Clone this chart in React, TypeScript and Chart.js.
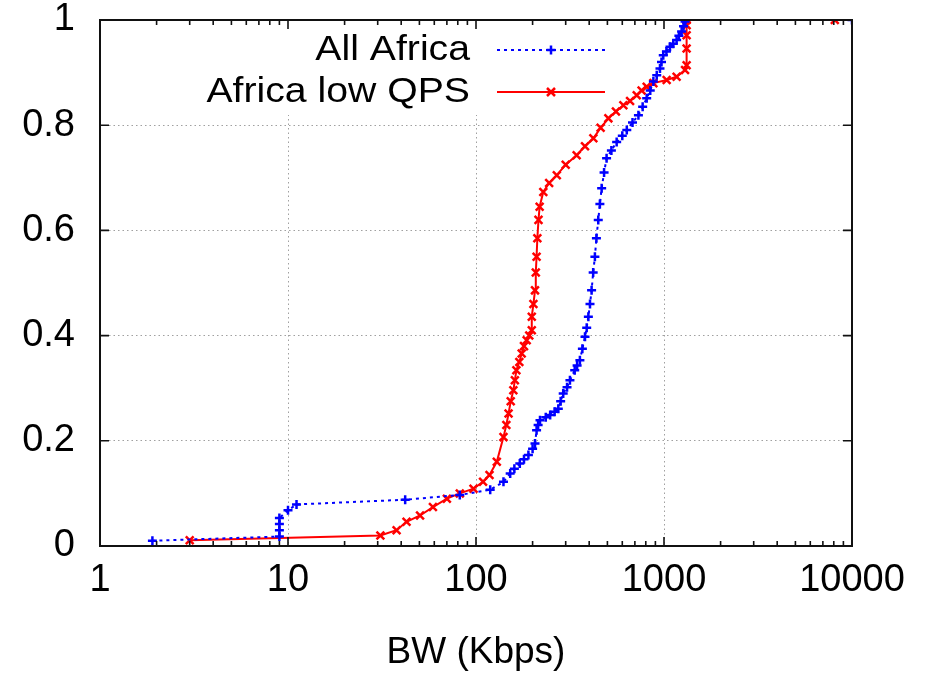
import React, { useEffect, useRef } from "react";
import { Chart, registerables } from "chart.js";

Chart.register(...registerables);

// ---- Data ----
const allAfricaBW = [
  1.9, 9.0, 9.0, 9.0, 9.0, 10.0, 11.1, 42, 82, 119, 140, 152, 160, 171, 180, 190, 200, 206, 210, 214, 219, 235,
  248, 262, 274, 282, 291, 305, 316, 335, 345, 357, 368, 380, 388, 396, 404, 412, 420, 429, 437, 447, 456, 466,
  480, 495, 525, 560, 600, 634, 680, 731, 770, 809, 845, 878, 915, 952, 970, 991, 1030, 1076, 1120, 1167, 1200,
  1241, 1270, 1294, 1300, 10000,
];
const allAfricaCDF = [
  0.01, 0.018, 0.03, 0.042, 0.053, 0.068, 0.079, 0.088, 0.097, 0.107, 0.122, 0.138, 0.147, 0.157, 0.165, 0.173,
  0.185, 0.195, 0.22, 0.23, 0.239, 0.245, 0.249, 0.255, 0.261, 0.275, 0.29, 0.302, 0.315, 0.334, 0.343, 0.353,
  0.375, 0.398, 0.415, 0.436, 0.46, 0.486, 0.52, 0.55, 0.585, 0.62, 0.65, 0.68, 0.71, 0.737, 0.752, 0.768, 0.78,
  0.791, 0.805, 0.819, 0.835, 0.851, 0.866, 0.883, 0.895, 0.908, 0.92, 0.933, 0.94, 0.949, 0.955, 0.962, 0.97,
  0.978, 0.988, 0.997, 1.0, 1.0,
];
const lowQpsBW = [
  3.0, 31, 37.8, 42.7, 50.4, 59, 70, 82, 97, 109, 118, 129, 140, 145, 149, 153, 158, 161, 164, 170, 175, 180,
  186, 192, 198, 198, 202, 206, 208, 210, 212, 215, 218, 228, 245, 269, 300, 343, 380, 421, 460, 506, 555, 608,
  660, 716, 760, 809, 878, 1033, 1167, 1294, 1319, 1319, 1319, 1319, 1319, 8100,
];
const lowQpsCDF = [
  0.011, 0.02, 0.03, 0.046, 0.058, 0.074, 0.09, 0.1, 0.109, 0.122, 0.135, 0.16, 0.207, 0.23, 0.252, 0.275, 0.296,
  0.315, 0.334, 0.35, 0.366, 0.38, 0.391, 0.4, 0.41, 0.436, 0.46, 0.486, 0.52, 0.55, 0.585, 0.62, 0.645, 0.673,
  0.69, 0.705, 0.725, 0.743, 0.76, 0.775, 0.795, 0.813, 0.826, 0.838, 0.846, 0.857, 0.866, 0.873, 0.88, 0.886,
  0.892, 0.905, 0.914, 0.946, 0.971, 0.99, 1.0, 1.0,
];
const seriesNames = ["All Africa", "Africa low QPS"];
const xTickValues = [1, 10, 100, 1000, 10000];
const xTitle = "BW (Kbps)";

const BLUE = "rgb(0,0,255)";
const RED = "rgb(255,0,0)";
const GRID = "rgba(150,150,150,0.9)";
const FONT = "'Liberation Sans', Arial, Helvetica, sans-serif";

const toPoints = (xs: number[], ys: number[]) => xs.map((x, i) => ({ x, y: ys[i] }));

const framePlugin = {
  id: "gnuplotFrame",
  beforeDatasetsDraw(chart: any) {
    const { ctx, chartArea } = chart;
    const { left, right, top } = chartArea;
    // key area masks the vertical grid lines
    ctx.save();
    ctx.fillStyle = "#ffffff";
    ctx.fillRect(left + 1, top + 1, right - left - 2, 114 - top);
    ctx.restore();
  },
  afterDatasetsDraw(chart: any) {
    const { ctx, chartArea, scales } = chart;
    const { left, right, top, bottom } = chartArea;
    const xs = scales.x;
    const ys = scales.y;
    ctx.save();
    ctx.strokeStyle = "#111";
    ctx.lineWidth = 1.6;
    ctx.beginPath();
    [0.2, 0.4, 0.6, 0.8].forEach((v) => {
      const py = ys.getPixelForValue(v);
      ctx.moveTo(left, py);
      ctx.lineTo(left + 9, py);
      ctx.moveTo(right, py);
      ctx.lineTo(right - 9, py);
    });
    for (let d = 1; d < 10000; d *= 10) {
      for (let m = 1; m <= 10; m++) {
        const v = d * m;
        if (v <= 1 || v >= 10000) continue;
        const px = xs.getPixelForValue(v);
        const len = m === 10 ? 9 : 5;
        ctx.moveTo(px, bottom);
        ctx.lineTo(px, bottom - len);
        ctx.moveTo(px, top);
        ctx.lineTo(px, top + len);
      }
    }
    ctx.stroke();
    ctx.lineWidth = 2;
    ctx.strokeRect(left, top, right - left, bottom - top);
    ctx.restore();

    // key (legend)
    const rows = [
      { name: seriesNames[0], color: BLUE, dash: [3, 4], style: "plus", y: 50 },
      { name: seriesNames[1], color: RED, dash: [], style: "x", y: 92 },
    ];
    rows.forEach((r) => {
      ctx.save();
      ctx.fillStyle = "#000";
      ctx.textAlign = "right";
      ctx.textBaseline = "middle";
      ctx.font = `35px ${FONT}`;
      ctx.translate(470, r.y);
      ctx.scale(1.12, 1);
      ctx.fillText(r.name, 0, 0);
      ctx.restore();

      ctx.save();
      ctx.strokeStyle = r.color;
      ctx.lineWidth = 2;
      ctx.setLineDash(r.dash);
      ctx.beginPath();
      ctx.moveTo(497, r.y);
      ctx.lineTo(605, r.y);
      ctx.stroke();
      ctx.setLineDash([]);
      ctx.lineWidth = 2.5;
      ctx.beginPath();
      const cx = 551;
      if (r.style === "plus") {
        ctx.moveTo(cx - 4.5, r.y);
        ctx.lineTo(cx + 4.5, r.y);
        ctx.moveTo(cx, r.y - 4.5);
        ctx.lineTo(cx, r.y + 4.5);
      } else {
        ctx.moveTo(cx - 4, r.y - 4);
        ctx.lineTo(cx + 4, r.y + 4);
        ctx.moveTo(cx - 4, r.y + 4);
        ctx.lineTo(cx + 4, r.y - 4);
      }
      ctx.stroke();
      ctx.restore();
    });
  },
};

export default function App() {
  const canvasRef = useRef<HTMLCanvasElement | null>(null);

  useEffect(() => {
    if (!canvasRef.current) return;
    const chart = new Chart(canvasRef.current, {
      type: "scatter",
      data: {
        datasets: [
          {
            label: seriesNames[0],
            data: toPoints(allAfricaBW, allAfricaCDF),
            showLine: true,
            borderColor: BLUE,
            backgroundColor: BLUE,
            borderWidth: 2,
            borderDash: [3, 4],
            pointStyle: "cross",
            pointRadius: 4.5,
            pointBorderWidth: 2.5,
            pointBorderColor: BLUE,
            tension: 0,
          },
          {
            label: seriesNames[1],
            data: toPoints(lowQpsBW, lowQpsCDF),
            showLine: true,
            borderColor: RED,
            backgroundColor: RED,
            borderWidth: 2,
            pointStyle: "crossRot",
            pointRadius: 5.5,
            pointBorderWidth: 2.5,
            pointBorderColor: RED,
            tension: 0,
          },
        ],
      },
      options: {
        animation: false,
        responsive: true,
        maintainAspectRatio: false,
        layout: { padding: { left: 0, right: 83, top: 20, bottom: 0 } },
        plugins: {
          legend: { display: false },
          tooltip: { enabled: false },
        },
        scales: {
          x: {
            type: "logarithmic",
            min: 1,
            max: 10000,
            afterBuildTicks: (scale: any) => {
              scale.ticks = xTickValues.map((v) => ({ value: v, major: true }));
            },
            afterFit: (scale: any) => {
              scale.height = 130;
              scale.paddingLeft = 0;
              scale.paddingRight = 0;
            },
            ticks: {
              callback: (v: any) => String(v),
              font: { family: FONT, size: 38 },
              color: "#000",
              padding: 12,
              maxRotation: 0,
              autoSkip: false,
            },
            grid: {
              drawTicks: false,
              lineWidth: 1,
              color: (c: any) =>
                c.tick && (c.tick.value === 1 || c.tick.value === 10000) ? "rgba(0,0,0,0)" : GRID,
            },
            border: { display: false, dash: [1.5, 3] },
            title: {
              display: true,
              text: xTitle,
              font: { family: FONT, size: 37 },
              color: "#000",
              padding: { top: 0, bottom: 1 },
            },
          },
          y: {
            min: 0,
            max: 1,
            afterFit: (scale: any) => {
              scale.width = 100;
              scale.paddingTop = 0;
              scale.paddingBottom = 0;
            },
            ticks: {
              stepSize: 0.2,
              callback: (v: any) => String(parseFloat(Number(v).toFixed(2))),
              font: { family: FONT, size: 38 },
              color: "#000",
              padding: 25,
            },
            grid: {
              drawTicks: false,
              lineWidth: 1,
              color: (c: any) =>
                c.tick && (c.tick.value === 0 || c.tick.value === 1) ? "rgba(0,0,0,0)" : GRID,
            },
            border: { display: false, dash: [1.5, 3] },
          },
        },
      },
      plugins: [framePlugin],
    });
    return () => chart.destroy();
  }, []);

  return (
    <div style={{ position: "fixed", left: 0, top: 0, width: 935, height: 676, background: "#fff" }}>
      <canvas ref={canvasRef} />
    </div>
  );
}
